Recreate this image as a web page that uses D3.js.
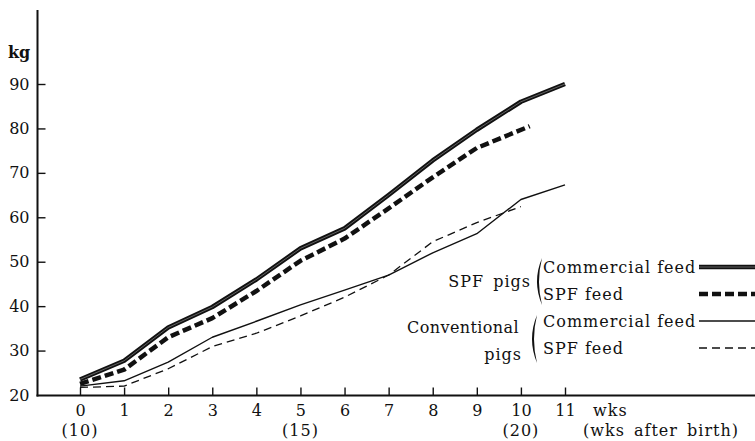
<!DOCTYPE html>
<html>
<head>
<meta charset="utf-8">
<script src="https://cdn.jsdelivr.net/npm/d3@7"></script>
<style>
  body { margin: 0; background: #fff; }
  svg { display: block; }
  text { font-family: "DejaVu Serif", "Liberation Serif", serif; fill: #111; }
</style>
</head>
<body>
<script>
// Data (body weight in kg by week of test)
const weeks = [0, 1, 2, 3, 4, 5, 6, 7, 8, 9, 10, 11];
const weeksShort = [0, 1, 2, 3, 4, 5, 6, 7, 8, 9, 10.2];
const weeksConvSpf = [0, 1, 2, 3, 4, 5, 6, 7, 8, 9, 10];

const spfPigsCommercial = [23.5, 27.7, 35.2, 39.8, 46, 53, 57.5, 65, 72.8, 79.7, 86, 90];
const spfPigsSpfFeed = [22.5, 25.7, 33, 37.3, 43.4, 50.2, 55.2, 62, 69, 75.6, 80.5];
const convPigsCommercial = [22, 23.2, 27.4, 33, 36.6, 40.3, 43.6, 47, 52, 56.3, 64, 67.3];
const convPigsSpfFeed = [21.7, 22, 25.9, 30.9, 33.9, 37.8, 42, 47, 54.5, 58.8, 62.4];

const yTicks = [20, 30, 40, 50, 60, 70, 80, 90];
const ageLabels = [[0, "(10)"], [5, "(15)"], [10, "(20)"]];

const width = 755, height = 441;

const svg = d3.select("body").append("svg")
    .attr("width", width)
    .attr("height", height);

// Scales
const x = d3.scaleLinear().domain([0, 11]).range([80, 565]);
const y = d3.scaleLinear().domain([20, 90]).range([395, 84]);

const axisX = 37.5, axisY = 395.5;

// Y axis (ticks pointing inward)
const yAxis = svg.append("g")
    .attr("transform", `translate(${axisX},0)`)
    .call(d3.axisLeft(y).tickValues(yTicks).tickSize(-8).tickPadding(8).tickFormat(d3.format("d")));
yAxis.select(".domain").remove();
yAxis.selectAll("line").attr("stroke", "#111").attr("stroke-width", 1.4);
yAxis.selectAll("text")
    .attr("font-family", "DejaVu Serif")
    .style("font-size", "16px")
    .attr("fill", "#111");
yAxis.selectAll(".tick").filter(d => d === 20).select("line").remove();

// X axis (ticks pointing up)
const xAxis = svg.append("g")
    .attr("transform", `translate(0,${axisY})`)
    .call(d3.axisBottom(x).tickValues(weeks).tickSize(-8).tickPadding(9));
xAxis.select(".domain").remove();
xAxis.selectAll("line").attr("stroke", "#111").attr("stroke-width", 1.4);
xAxis.selectAll("text")
    .attr("font-family", "DejaVu Serif")
    .style("font-size", "16px")
    .attr("fill", "#111");

// Axis lines
svg.append("line")
    .attr("x1", axisX).attr("x2", axisX)
    .attr("y1", 10).attr("y2", axisY + 1)
    .attr("stroke", "#111").attr("stroke-width", 2);
svg.append("line")
    .attr("x1", axisX - 1).attr("x2", width)
    .attr("y1", axisY).attr("y2", axisY)
    .attr("stroke", "#111").attr("stroke-width", 2);

// Unit labels
svg.append("text")
    .attr("x", 8).attr("y", 58)
    .style("font-size", "16px")
    .style("font-weight", "bold")
    .text("kg");

svg.append("text")
    .attr("x", 593).attr("y", 416)
    .style("font-size", "16px")
    .style("letter-spacing", "1px")
    .text("wks");

ageLabels.forEach(([w, label]) => {
    svg.append("text")
        .attr("x", x(w)).attr("y", 436)
        .attr("text-anchor", "middle")
        .style("font-size", "16px")
        .style("letter-spacing", "1px")
        .text(label);
});

svg.append("text")
    .attr("x", 583).attr("y", 436)
    .style("font-size", "16px")
    .style("letter-spacing", "1px")
    .style("word-spacing", "3px")
    .text("(wks after birth)");

// Lines
const line = d3.line().x(d => x(d[0])).y(d => y(d[1]));

const series = [
    { w: weeks, v: spfPigsCommercial, width: 4.5, dash: null, inner: true },
    { w: weeksShort, v: spfPigsSpfFeed, width: 4.5, dash: "9,4", inner: false },
    { w: weeks, v: convPigsCommercial, width: 1.4, dash: null, inner: false },
    { w: weeksConvSpf, v: convPigsSpfFeed, width: 1.3, dash: "8,5", inner: false }
];

series.forEach(s => {
    const pts = s.w.map((w, i) => [w, s.v[i]]);
    svg.append("path")
        .attr("d", line(pts))
        .attr("fill", "none")
        .attr("stroke", "#111")
        .attr("stroke-width", s.width)
        .attr("stroke-dasharray", s.dash)
        .attr("stroke-linejoin", "round");
    if (s.inner) {
        svg.append("path")
            .attr("d", line(pts))
            .attr("fill", "none")
            .attr("stroke", "#777")
            .attr("stroke-width", 0.8);
    }
});

// Legend
const legendRows = [
    { label: "Commercial feed", y: 267, s: series[0] },
    { label: "SPF feed", y: 294, s: series[1] },
    { label: "Commercial feed", y: 321, s: series[2] },
    { label: "SPF feed", y: 348, s: series[3] }
];

legendRows.forEach(r => {
    svg.append("text")
        .attr("x", 543).attr("y", r.y + 6)
        .style("font-size", "16px")
        .style("letter-spacing", "1px")
        .text(r.label);
    svg.append("line")
        .attr("x1", 699).attr("x2", width)
        .attr("y1", r.y).attr("y2", r.y)
        .attr("stroke", "#111")
        .attr("stroke-width", r.s.width)
        .attr("stroke-dasharray", r.s.dash);
    if (r.s.inner) {
        svg.append("line")
            .attr("x1", 699).attr("x2", width)
            .attr("y1", r.y).attr("y2", r.y)
            .attr("stroke", "#777").attr("stroke-width", 0.8);
    }
});

// Group labels
svg.append("text")
    .attr("x", 531).attr("y", 287)
    .attr("text-anchor", "end")
    .style("font-size", "16px")
    .style("letter-spacing", "1px")
    .style("word-spacing", "3px")
    .text("SPF pigs");

svg.append("text")
    .attr("x", 519).attr("y", 333)
    .attr("text-anchor", "end")
    .style("font-size", "16px")
    .style("letter-spacing", "0.4px")
    .text("Conventional");

svg.append("text")
    .attr("x", 522).attr("y", 360)
    .attr("text-anchor", "end")
    .style("font-size", "16px")
    .style("letter-spacing", "1px")
    .text("pigs");

// Big parentheses drawn as crescents
function paren(px, top, bottom) {
    const mid = (top + bottom) / 2;
    return `M${px + 7},${top} Q${px - 3},${mid} ${px + 7},${bottom} Q${px + 1},${mid} ${px + 7},${top} Z`;
}
svg.append("path").attr("d", paren(535, 258, 305)).attr("fill", "#111");
svg.append("path").attr("d", paren(530, 315, 363)).attr("fill", "#111");
</script>
</body>
</html>
